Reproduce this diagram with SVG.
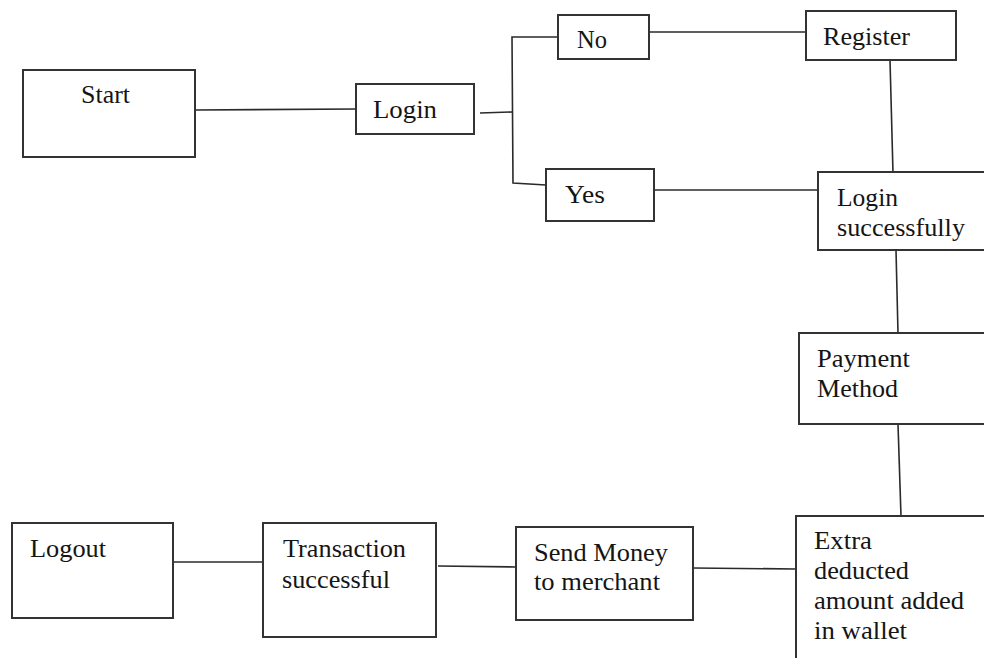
<svg xmlns="http://www.w3.org/2000/svg" width="984" height="658" viewBox="0 0 984 658">
<style>
.box{fill:#fff;stroke:#333;stroke-width:2}
.ln{fill:none;stroke:#2a2a2a;stroke-width:1.6}
text{font-family:"Liberation Serif","Times New Roman",serif;font-size:25px;fill:#151515}
</style>
<rect width="984" height="658" fill="#fff"/>
<g id="connectors">
<path class="ln" d="M195,110 L356,109"/>
<path class="ln" d="M480,113 L512,112"/>
<path class="ln" d="M558,37 L512,37 L513,183 L546,185"/>
<path class="ln" d="M649,32 L806,32"/>
<path class="ln" d="M890,60 L893,173"/>
<path class="ln" d="M654,190 L819,190"/>
<path class="ln" d="M896,250 L898,333"/>
<path class="ln" d="M898,424 L901,516"/>
<path class="ln" d="M693,568 L796,569"/>
<path class="ln" d="M438,566 L516,567"/>
<path class="ln" d="M173,562 L263,562"/>
</g>
<g id="start"><rect class="box" x="23" y="70" width="172" height="87"/><text x="81" y="103" textLength="49" lengthAdjust="spacingAndGlyphs">Start</text></g>
<g id="login"><rect class="box" x="356" y="84" width="118" height="50"/><text x="373" y="118" textLength="64" lengthAdjust="spacingAndGlyphs">Login</text></g>
<g id="no"><rect class="box" x="558" y="15" width="91" height="44"/><text x="577" y="48" textLength="30" lengthAdjust="spacingAndGlyphs">No</text></g>
<g id="register"><rect class="box" x="806" y="11" width="150" height="49"/><text x="823" y="45" textLength="87" lengthAdjust="spacingAndGlyphs">Register</text></g>
<g id="yes"><rect class="box" x="546" y="169" width="108" height="52"/><text x="565" y="203" textLength="40" lengthAdjust="spacingAndGlyphs">Yes</text></g>
<g id="login-successfully"><rect class="box" x="818" y="172" width="180" height="78"/><text x="837" y="206" textLength="61" lengthAdjust="spacingAndGlyphs">Login</text><text x="837" y="236" textLength="128" lengthAdjust="spacingAndGlyphs">successfully</text></g>
<g id="payment-method"><rect class="box" x="799" y="333" width="199" height="91"/><text x="817" y="367" textLength="93" lengthAdjust="spacingAndGlyphs">Payment</text><text x="817" y="397" textLength="81" lengthAdjust="spacingAndGlyphs">Method</text></g>
<g id="extra"><rect class="box" x="796" y="516" width="202" height="160"/><text x="814" y="549" textLength="58" lengthAdjust="spacingAndGlyphs">Extra</text><text x="814" y="579" textLength="95" lengthAdjust="spacingAndGlyphs">deducted</text><text x="814" y="609" textLength="150" lengthAdjust="spacingAndGlyphs">amount added</text><text x="814" y="639" textLength="93" lengthAdjust="spacingAndGlyphs">in wallet</text></g>
<g id="send-money"><rect class="box" x="516" y="527" width="177" height="93"/><text x="534" y="561" textLength="134" lengthAdjust="spacingAndGlyphs">Send Money</text><text x="534" y="590" textLength="126" lengthAdjust="spacingAndGlyphs">to merchant</text></g>
<g id="transaction"><rect class="box" x="263" y="523" width="173" height="114"/><text x="283" y="557" textLength="123" lengthAdjust="spacingAndGlyphs">Transaction</text><text x="282" y="588" textLength="108" lengthAdjust="spacingAndGlyphs">successful</text></g>
<g id="logout"><rect class="box" x="12" y="523" width="161" height="95"/><text x="30" y="557" textLength="76" lengthAdjust="spacingAndGlyphs">Logout</text></g>
</svg>
